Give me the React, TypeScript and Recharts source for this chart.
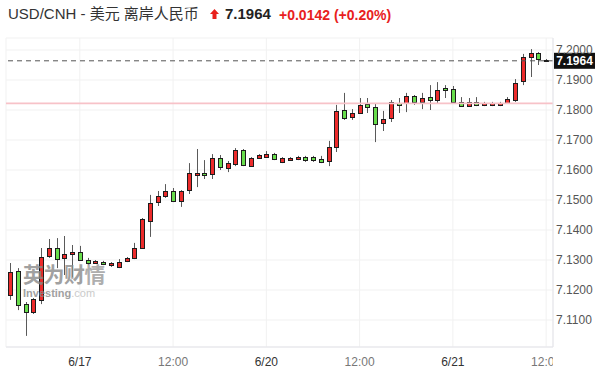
import React from 'react';
import { ComposedChart, Bar, XAxis, YAxis, CartesianGrid, ReferenceLine } from 'recharts';

// hourly candles, USD/CNH
const times = [
  '6/16 15:00', '6/16 16:00', '6/16 17:00', '6/16 18:00', '6/16 19:00', '6/16 20:00', '6/16 21:00', '6/16 22:00', '6/16 23:00',
  '6/17 00:00', '6/17 01:00', '6/17 02:00', '6/17 03:00', '6/17 04:00', '6/17 05:00', '6/17 06:00', '6/17 07:00',
  '6/17 08:00', '6/17 09:00', '6/17 10:00', '6/17 11:00', '6/17 12:00', '6/17 13:00', '6/17 14:00', '6/17 15:00',
  '6/17 16:00', '6/17 17:00', '6/17 18:00', '6/17 19:00', '6/17 20:00', '6/17 21:00', '6/17 22:00', '6/17 23:00',
  '6/20 00:00', '6/20 01:00', '6/20 02:00', '6/20 03:00', '6/20 04:00', '6/20 05:00', '6/20 06:00', '6/20 07:00',
  '6/20 08:00', '6/20 09:00', '6/20 10:00', '6/20 11:00', '6/20 12:00', '6/20 13:00', '6/20 14:00', '6/20 15:00',
  '6/20 16:00', '6/20 17:00', '6/20 18:00', '6/20 19:00', '6/20 20:00', '6/20 21:00', '6/20 22:00', '6/20 23:00',
  '6/21 00:00', '6/21 01:00', '6/21 02:00', '6/21 03:00', '6/21 04:00', '6/21 05:00', '6/21 06:00', '6/21 07:00',
  '6/21 08:00', '6/21 09:00', '6/21 10:00', '6/21 11:00', '6/21 12:00',
];

const opens = [
  7.1183, 7.1263, 7.1153, 7.1127, 7.1167, 7.1313, 7.1340, 7.1307, 7.1320, 7.1327,
  7.1300, 7.1290, 7.1293, 7.1283, 7.1277, 7.1297, 7.1307, 7.1340, 7.1430, 7.1493,
  7.1513, 7.1530, 7.1497, 7.1533, 7.1583, 7.1590, 7.1587, 7.1640, 7.1607, 7.1620,
  7.1667, 7.1613, 7.1640, 7.1643, 7.1653, 7.1627, 7.1633, 7.1637, 7.1643, 7.1643,
  7.1637, 7.1630, 7.1677, 7.1800, 7.1777, 7.1790, 7.1820, 7.1810, 7.1757, 7.1773,
  7.1823, 7.1823, 7.1847, 7.1827, 7.1843, 7.1833, 7.1873, 7.1870, 7.1827, 7.1813,
  7.1827, 7.1817, 7.1817, 7.1817, 7.1823, 7.1833, 7.1897, 7.1977, 7.1990, 7.1968,
];

const highs = [
  7.1290, 7.1273, 7.1160, 7.1173, 7.1340, 7.1370, 7.1373, 7.1380, 7.1350, 7.1347,
  7.1307, 7.1300, 7.1297, 7.1293, 7.1303, 7.1310, 7.1357, 7.1440, 7.1517, 7.1530,
  7.1553, 7.1540, 7.1533, 7.1623, 7.1670, 7.1633, 7.1653, 7.1650, 7.1630, 7.1673,
  7.1670, 7.1643, 7.1653, 7.1663, 7.1657, 7.1643, 7.1643, 7.1647, 7.1647, 7.1647,
  7.1647, 7.1697, 7.1817, 7.1857, 7.1803, 7.1840, 7.1840, 7.1823, 7.1797, 7.1833,
  7.1840, 7.1857, 7.1850, 7.1857, 7.1883, 7.1893, 7.1883, 7.1880, 7.1843, 7.1840,
  7.1843, 7.1827, 7.1827, 7.1827, 7.1843, 7.1903, 7.1987, 7.2003, 7.1993, 7.1970,
];

const lows = [
  7.1167, 7.1133, 7.1047, 7.1120, 7.1153, 7.1307, 7.1273, 7.1250, 7.1243, 7.1297,
  7.1283, 7.1287, 7.1283, 7.1277, 7.1273, 7.1293, 7.1303, 7.1337, 7.1377, 7.1480,
  7.1507, 7.1493, 7.1477, 7.1520, 7.1543, 7.1570, 7.1570, 7.1600, 7.1593, 7.1613,
  7.1613, 7.1610, 7.1637, 7.1640, 7.1633, 7.1623, 7.1630, 7.1633, 7.1627, 7.1627,
  7.1623, 7.1613, 7.1660, 7.1767, 7.1767, 7.1787, 7.1790, 7.1693, 7.1730, 7.1760,
  7.1790, 7.1793, 7.1817, 7.1803, 7.1800, 7.1823, 7.1840, 7.1820, 7.1810, 7.1810,
  7.1813, 7.1813, 7.1813, 7.1813, 7.1820, 7.1827, 7.1883, 7.1910, 7.1950, 7.1960,
];

const closes = [
  7.1260, 7.1150, 7.1127, 7.1170, 7.1310, 7.1340, 7.1303, 7.1320, 7.1327, 7.1300,
  7.1290, 7.1297, 7.1287, 7.1290, 7.1293, 7.1307, 7.1340, 7.1437, 7.1490, 7.1513,
  7.1530, 7.1497, 7.1530, 7.1590, 7.1590, 7.1583, 7.1640, 7.1610, 7.1623, 7.1667,
  7.1617, 7.1640, 7.1650, 7.1653, 7.1637, 7.1640, 7.1640, 7.1643, 7.1633, 7.1633,
  7.1627, 7.1677, 7.1797, 7.1773, 7.1790, 7.1817, 7.1810, 7.1753, 7.1770, 7.1827,
  7.1817, 7.1847, 7.1827, 7.1840, 7.1833, 7.1867, 7.1867, 7.1827, 7.1813, 7.1827,
  7.1817, 7.1823, 7.1823, 7.1823, 7.1837, 7.1890, 7.1977, 7.1990, 7.1970, 7.1964,
];

const xTicks = ['6/17 00:00', '6/17 12:00', '6/20 00:00', '6/20 12:00', '6/21 00:00', '6/21 12:00'];
const yTicks = [7.11, 7.12, 7.13, 7.14, 7.15, 7.16, 7.17, 7.18, 7.19, 7.2];

const lastPrice = 7.1964;
const prevClose = 7.1822;
const change = '+0.0142';
const changePct = '(+0.20%)';

const data = times.map((time, i) => ({
  time,
  open: opens[i],
  high: highs[i],
  low: lows[i],
  close: closes[i],
  range: [lows[i], highs[i]],
}));

const FONT = '"Liberation Sans", Arial, "Noto Sans CJK SC", sans-serif';
const UP = '#ec2b2b';
const DOWN = '#68dd4c';

const Candle = (props: any) => {
  const { x, y, width, height, payload } = props;
  if (!payload || height == null) return null;
  const { open, close, high, low } = payload;
  const ratio = height / (high - low);
  const cx = Math.round(x + width / 2);
  const top = Math.round(y + (high - Math.max(open, close)) * ratio);
  const bodyH = Math.max(Math.round(Math.abs(open - close) * ratio), 1);
  const up = close >= open;
  return (
    <g>
      <line x1={cx + 0.5} x2={cx + 0.5} y1={y} y2={y + height} stroke="#5a5a5a" strokeWidth={1} />
      <rect
        x={cx - 1.5}
        y={top + 0.5}
        width={4}
        height={bodyH}
        fill={up ? UP : DOWN}
        stroke="#1c1c1c"
        strokeWidth={1}
      />
    </g>
  );
};

function fmtTime(t: string) {
  const [d, h] = t.split(' ');
  return h === '00:00' ? d : h;
}

const XTick = (props: any) => {
  const { x, y, payload, index } = props;
  const label = fmtTime(payload.value);
  const isDate = label.includes('/');
  const id = 'xclip' + index;
  return (
    <g>
      <defs>
        <clipPath id={id}>
          <rect x={0} y={0} width={553} height={377} />
        </clipPath>
      </defs>
      <text
        x={x}
        y={y}
        dy="0.71em"
        textAnchor="middle"
        fontSize={12}
        fontFamily={FONT}
        fill={isDate ? '#333' : '#777'}
        clipPath={`url(#${id})`}
      >
        {label}
      </text>
    </g>
  );
};

const PriceTag = (props: any) => {
  const vb = props.viewBox;
  if (!vb) return null;
  const left = vb.x + vb.width + 1;
  return (
    <g>
      <rect x={left} y={vb.y - 8} width={41} height={16} fill="#111" />
      <text
        x={left + 20.5}
        y={vb.y}
        dy="0.35em"
        textAnchor="middle"
        fontSize={12}
        fontWeight="bold"
        fontFamily={FONT}
        fill="#fff"
      >
        {lastPrice.toFixed(4)}
      </text>
    </g>
  );
};

export default function App() {
  return (
    <div
      style={{
        position: 'fixed',
        left: 0,
        top: 0,
        width: 600,
        height: 377,
        background: '#fff',
        fontFamily: FONT,
        overflow: 'hidden',
      }}
    >
      <div style={{ position: 'absolute', left: 8, top: 5, lineHeight: '18px', fontSize: 15, color: '#333', whiteSpace: 'nowrap' }}>
        USD/CNH - 美元 离岸人民币
      </div>
      <svg style={{ position: 'absolute', left: 210, top: 9 }} width={9} height={10} viewBox="0 0 9 10">
        <polygon points="4.5,0 9,5 6.5,5 6.5,10 2.5,10 2.5,5 0,5" fill="#e8211d" />
      </svg>
      <div style={{ position: 'absolute', left: 225, top: 5, lineHeight: '18px', fontSize: 15, fontWeight: 'bold', color: '#222' }}>
        {lastPrice.toFixed(4)}
      </div>
      <div style={{ position: 'absolute', left: 279, top: 6, lineHeight: '18px', fontSize: 14, fontWeight: 'bold', color: '#e8211d', whiteSpace: 'nowrap' }}>
        {change} {changePct}
      </div>

      <div style={{ position: 'absolute', left: 0, top: 0 }}>
        <ComposedChart
          width={600}
          height={377}
          data={data}
          margin={{ top: 38, right: 0, bottom: 0, left: 6 }}
          barCategoryGap={1}
        >
          <CartesianGrid stroke="#f1f1f1" />
          <XAxis
            dataKey="time"
            ticks={xTicks}
            interval={0}
            height={30}
            tickSize={0}
            tickMargin={10}
            padding={{ left: 0, right: 3 }}
            axisLine={{ stroke: '#e4e4ea' }}
            tickLine={false}
            tick={<XTick />}
          />
          <YAxis
            orientation="right"
            width={47}
            domain={[7.101, 7.204]}
            allowDataOverflow
            ticks={yTicks}
            tickFormatter={(v: number) => v.toFixed(4)}
            tickSize={0}
            tickMargin={3}
            axisLine={{ stroke: '#e4e4ea' }}
            tickLine={false}
            tick={{ fill: '#555', fontSize: 12, fontFamily: FONT }}
          />
          <ReferenceLine key="prev" y={prevClose} stroke="#f7c2c8" strokeWidth={1.6} />
          <Bar dataKey="range" shape={<Candle />} isAnimationActive={false} />
          <ReferenceLine
            key="last"
            y={lastPrice}
            stroke="#555"
            strokeDasharray="5 4"
            strokeWidth={1}
            label={<PriceTag />}
          />
        </ComposedChart>
      </div>

      <div style={{ position: 'absolute', left: 23, top: 262, opacity: 0.8, pointerEvents: 'none' }}>
        <div style={{ fontSize: 21, fontWeight: 'bold', color: '#8a8a8a', letterSpacing: -0.5, lineHeight: '25px' }}>
          英为财<span style={{ color: '#9a9a9a' }}>情</span>
        </div>
        <div style={{ fontSize: 11, fontWeight: 'bold', color: '#8a8a8a', lineHeight: '12px' }}>
          Investing<span style={{ color: '#bdbdbd', fontWeight: 'normal' }}>.com</span>
        </div>
      </div>
    </div>
  );
}
